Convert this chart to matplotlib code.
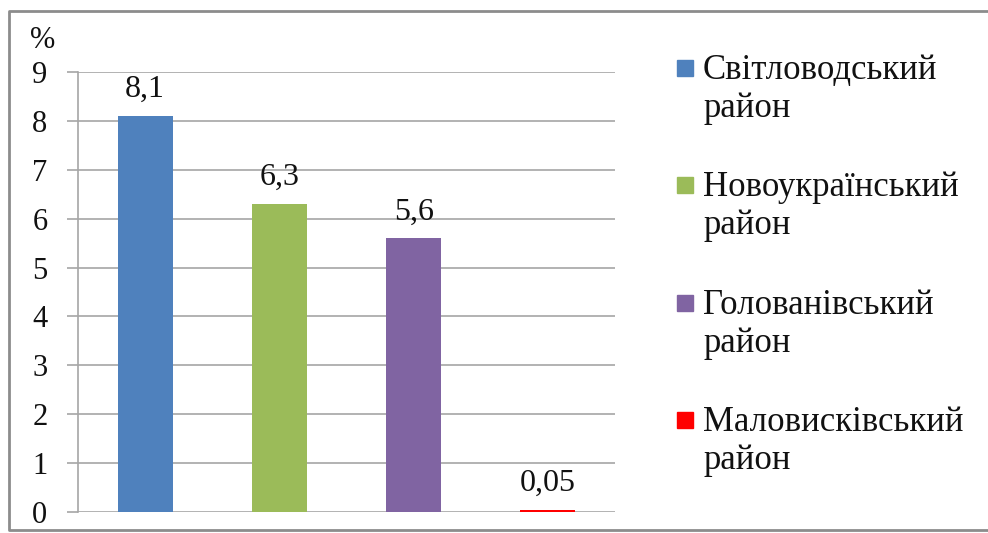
import matplotlib.pyplot as plt
from matplotlib.patches import Rectangle
from matplotlib.lines import Line2D

districts = ["Світловодський", "Новоукраїнський",
             "Голованівський", "Маловисківський"]
suffix = "район"
values = [8.1, 6.3, 5.6, 0.05]
colors = ["#4F81BD", "#9BBB59", "#8064A2", "#FF0000"]
yticks = list(range(0, 10))

plt.rcParams['font.family'] = ['Liberation Serif', 'DejaVu Serif']

W, H = 988, 533
fig = plt.figure(figsize=(W / 100, H / 100), dpi=100)
ax = fig.add_axes([78 / W, 1 - 512 / H, (615 - 78) / W, (512 - 72) / H])

x = range(len(values))
bars = ax.bar(x, values, width=0.41, color=colors, zorder=3)
for xi, v in zip(x, values):
    ax.annotate(str(v).replace('.', ','), (xi, v), xytext=(0, 13.5),
                textcoords='offset points', ha='center', va='baseline',
                fontsize=23, color='#111111')

ax.set_xlim(-0.5, 3.5)
ax.set_ylim(0, 9)
ax.set_yticks(yticks)
ax.set_yticklabels([str(t) for t in yticks], fontsize=22, color='#111111')
ax.set_xticks([])
ax.yaxis.grid(True, color='#A6A6A6', lw=1.2, zorder=0)
ax.tick_params(axis='y', direction='out', length=8, width=1.2,
               color='#A6A6A6', pad=14)
for s in ['top', 'right', 'bottom']:
    ax.spines[s].set_visible(False)
ax.spines['left'].set_color('#A6A6A6')
ax.spines['left'].set_linewidth(1.2)

fig.text(43 / W, 1 - 41 / H, "%", fontsize=22, ha='center', va='center',
         color='#111111')

# legend drawn by hand: square beside first line of each label
for i, (lab, c) in enumerate(zip(districts, colors)):
    yc = 68 + i * 117.3
    fig.patches.append(Rectangle((677 / W, 1 - (yc + 8) / H), 16 / W, 16 / H,
                                 transform=fig.transFigure, color=c))
    fig.text(703 / W, 1 - (yc + 11) / H, lab, fontsize=25, ha='left',
             va='baseline', color='#111111')
    fig.text(703 / W, 1 - (yc + 49) / H, suffix, fontsize=25, ha='left',
             va='baseline', color='#111111')

# outer frame (left, top, bottom; right edge is off the picture)
fx = [1.5, 9 / W, 9 / W, 1.5]
fy = [1 - 530 / H, 1 - 530 / H, 1 - 11 / H, 1 - 11 / H]
fig.lines.append(Line2D(fx, fy, transform=fig.transFigure,
                        color='#8C8C8C', lw=2))

fig.savefig("out.png", dpi=100)
